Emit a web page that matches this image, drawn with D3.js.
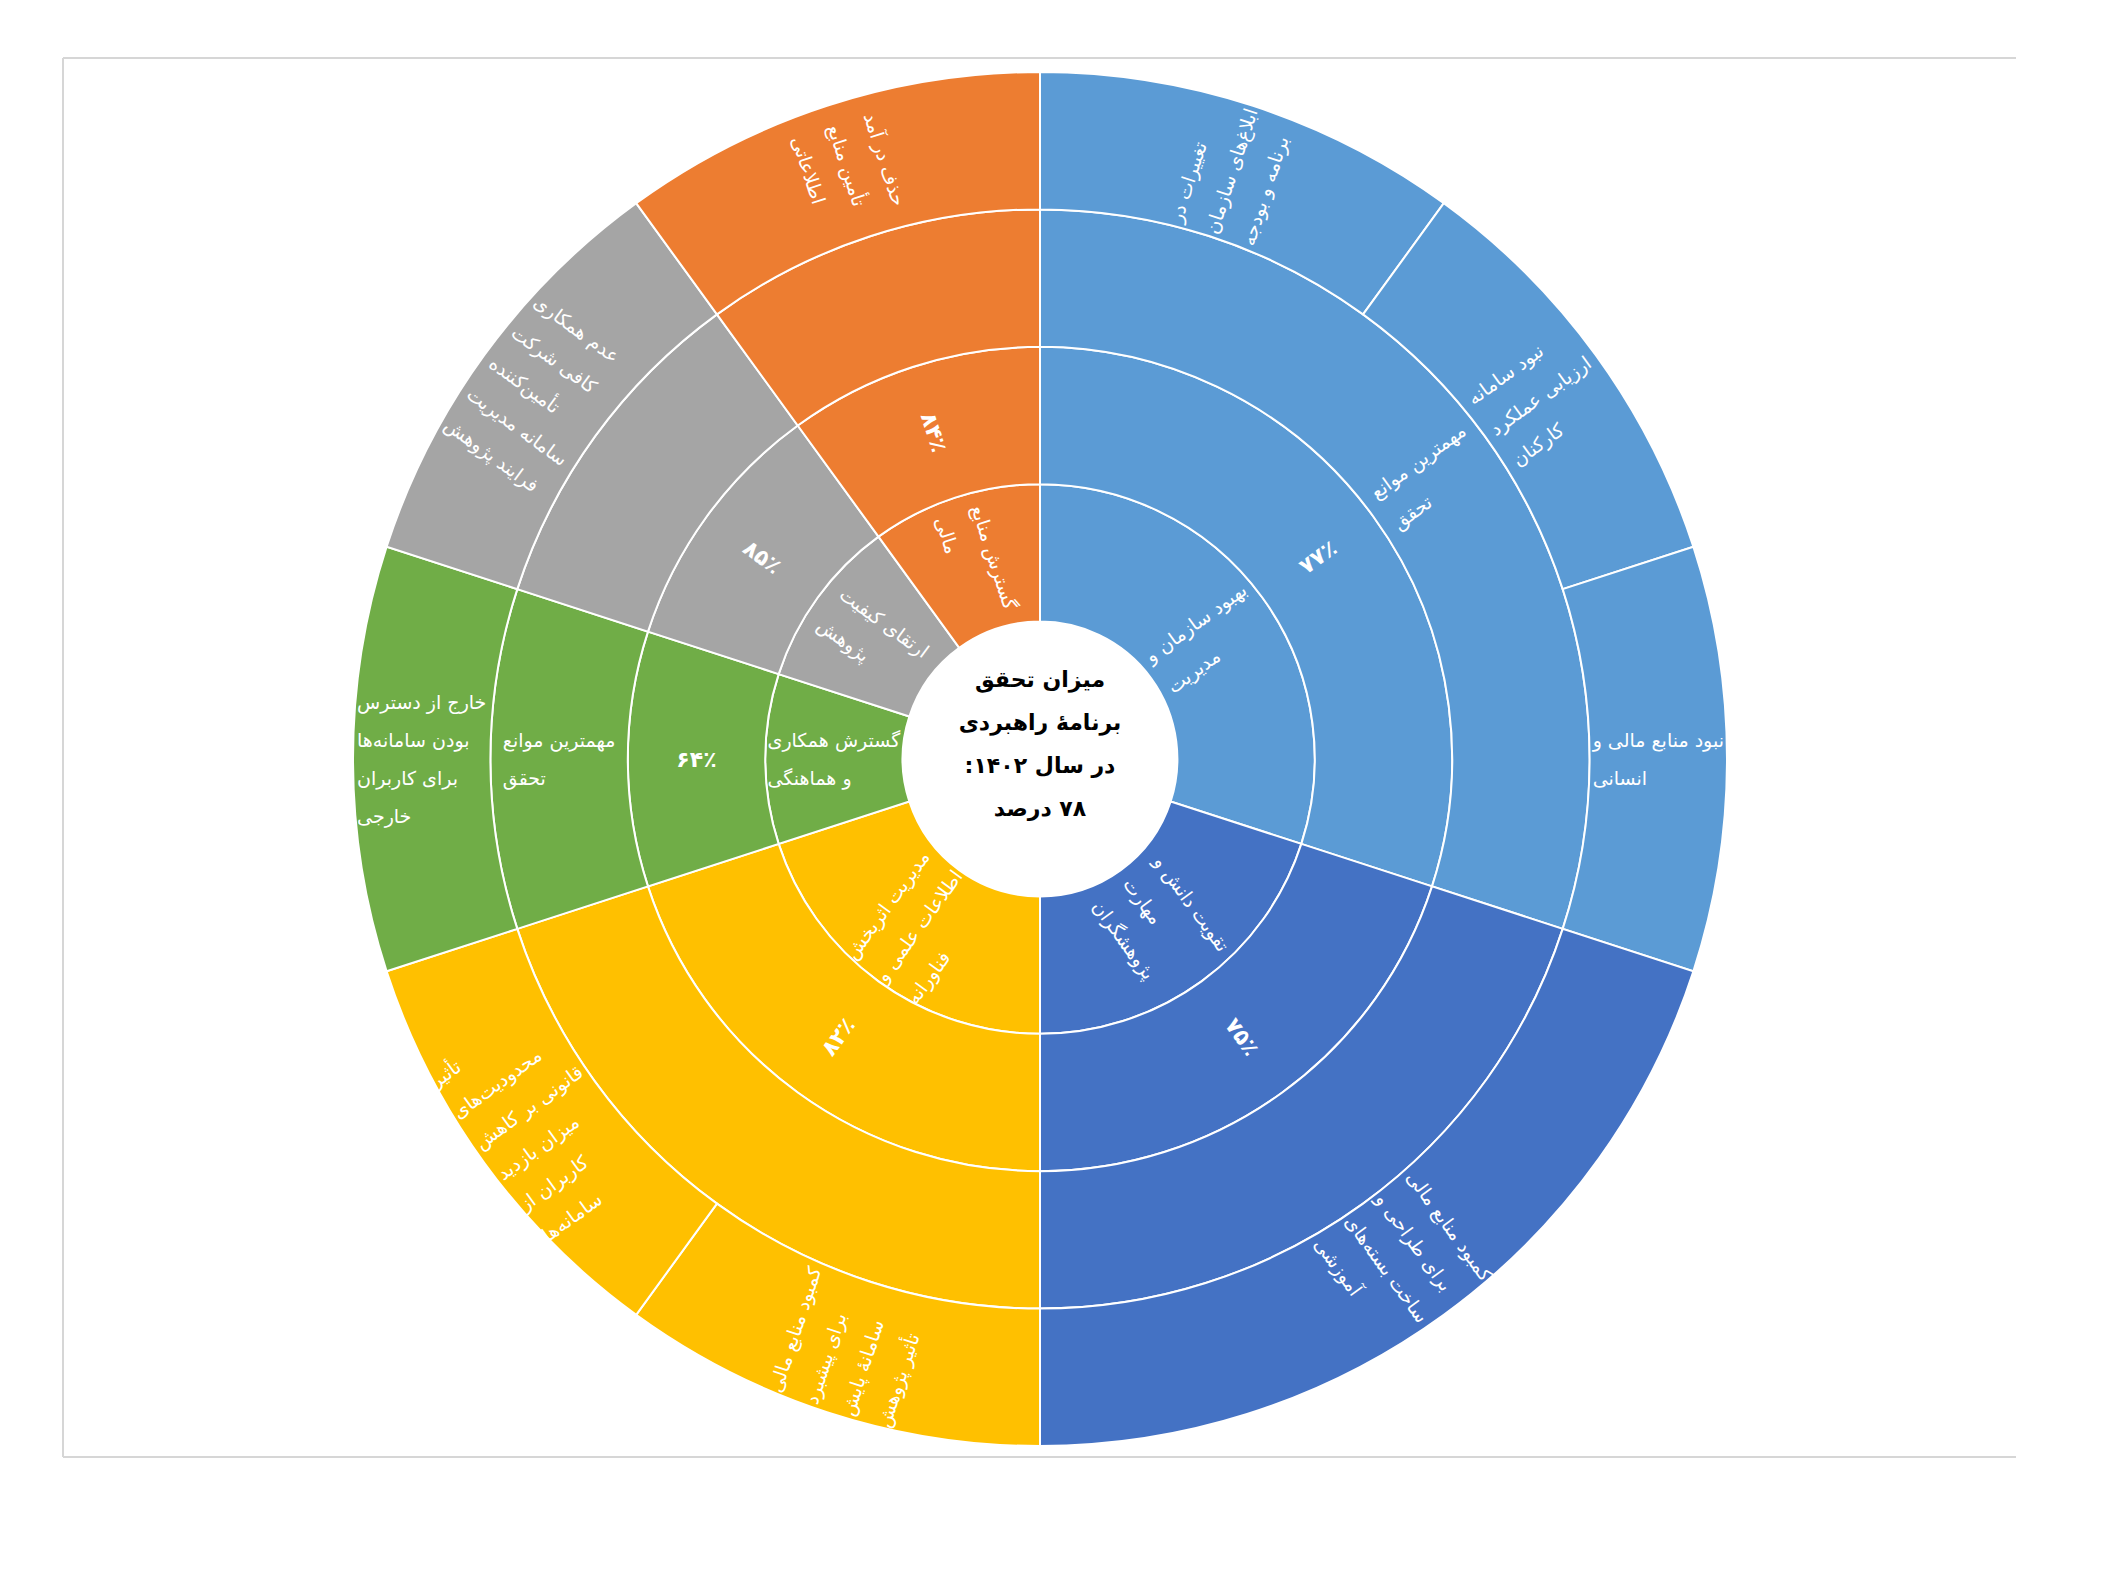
<!DOCTYPE html>
<html>
<head>
<meta charset="utf-8">
<script src="https://cdn.jsdelivr.net/npm/d3@7"></script>
<style>
  html, body { margin: 0; padding: 0; background: #ffffff; }
  svg { display: block; }
</style>
</head>
<body>
<svg id="chart" width="2115" height="1583"></svg>
<script>
// ---------------- DATA ----------------
// Level 1: strategic goals (line breaks as in the picture)
const goals = [
  "بهبود سازمان و\nمدیریت",
  "تقویت دانش و\nمهارت\nپژوهشگران",
  "مدیریت اثربخش\nاطلاعات علمی و\nفناورانه",
  "گسترش همکاری\nو هماهنگی",
  "ارتقای کیفیت\nپژوهش",
  "گسترش منابع\nمالی"
];
const goalColors = ["#5B9BD5", "#4472C4", "#FFC000", "#70AD47", "#A5A5A5", "#ED7D31"];
// Level 2: achievement percentages
const percents = ["۷۷٪", "۷۵٪", "۸۲٪", "۶۴٪", "۸۵٪", "۸۴٪"];
// Level 3: header ring (label shown only where visible in the picture)
const barrierHeaders = ["مهمترین موانع\nتحقق", "", "", "مهمترین موانع\nتحقق", "", ""];
// Level 4: obstacles
const obstacles = [
  ["تغییرات در\nابلاغ‌های سازمان\nبرنامه و بودجه", "نبود سامانه\nارزیابی عملکرد\nکارکنان", "نبود منابع مالی و\nانسانی"],
  ["کمبود منابع مالی\nبرای طراحی و\nساخت بسته‌های\nآموزشی"],
  ["کمبود منابع مالی\nبرای پیشبرد\nسامانهٔ پایش\nتأثیر پژوهش", "تأثیر\nمحدودیت‌های\nقانونی بر کاهش\nمیزان بازدید\nکاربران از\nسامانه‌ها"],
  ["خارج از دسترس\nبودن سامانه‌ها\nبرای کاربران\nخارجی"],
  ["عدم همکاری\nکافی شرکت\nتأمین‌کننده\nسامانه مدیریت\nفرایند پژوهش"],
  ["حذف در آمد\nتأمین منابع\nاطلاعاتی"]
];
const obstacleWeights = [[1, 1, 1], [2], [1, 1], [1], [1], [1]];
// Centre text (right-to-left lines)
const centerLines = ["میزان تحقق", "برنامهٔ راهبردی", "در سال ۱۴۰۲:", "۷۸ درصد"];

// ---------------- BUILD ----------------
const cx = 1040, cy = 759, R = 687;
const svg = d3.select("#chart");

// frame (light grey, right side open as in picture)
const frame = svg.append("g").attr("stroke", "#d6d6d6").attr("stroke-width", 2).attr("fill", "none");
frame.append("line").attr("x1", 63).attr("y1", 58).attr("x2", 2016).attr("y2", 58);
frame.append("line").attr("x1", 63).attr("y1", 58).attr("x2", 63).attr("y2", 1457);
frame.append("line").attr("x1", 63).attr("y1", 1457).attr("x2", 2016).attr("y2", 1457);

const rootData = {
  name: "",
  children: goals.map((g, i) => ({
    name: g, gi: i, kind: "goal",
    children: [{
      name: percents[i], gi: i, kind: "pct",
      children: [{
        name: barrierHeaders[i], gi: i, kind: "head",
        children: obstacles[i].map((o, j) => ({ name: o, gi: i, kind: "leaf", value: obstacleWeights[i][j] }))
      }]
    }]
  }))
};

const root = d3.hierarchy(rootData).sum(d => d.value || 0);
d3.partition().size([2 * Math.PI, R])(root);

const arc = d3.arc()
  .startAngle(d => d.x0).endAngle(d => d.x1)
  .innerRadius(d => d.y0).outerRadius(d => d.y1);

const g = svg.append("g").attr("transform", `translate(${cx},${cy})`);

g.selectAll("path.seg")
  .data(root.descendants())
  .join("path")
  .attr("class", "seg")
  .attr("d", arc)
  .attr("fill", d => d.depth === 0 ? "#ffffff" : goalColors[d.data.gi])
  .attr("stroke", "#ffffff")
  .attr("stroke-width", 2);

// segment labels: radial orientation, left-aligned lines, block centred on the segment centroid
const FONT = "'DejaVu Sans', sans-serif";
const labelNodes = root.descendants().filter(d => d.depth > 0 && d.data.name);
const lh = 38;

labelNodes.forEach(d => {
  const a = (d.x0 + d.x1) / 2;
  const r = (d.y0 + d.y1) / 2;
  const deg = a * 180 / Math.PI;
  const rot = deg < 180 ? deg - 90 : deg - 270;
  const x = r * Math.sin(a), y = -r * Math.cos(a);
  const lines = d.data.name.split("\n");
  const grp = g.append("g").attr("transform", `translate(${x},${y}) rotate(${rot})`);
  const isPct = d.data.kind === "pct";
  const t = grp.append("text")
    .attr("fill", "#ffffff")
    .attr("font-family", FONT)
    .attr("font-size", isPct ? 22 : 19)
    .attr("font-weight", isPct ? "bold" : "normal");
  const tspans = lines.map((ln, i) => t.append("tspan")
    .attr("x", 0)
    .attr("y", (i - (lines.length - 1) / 2) * lh)
    .attr("dominant-baseline", "central")
    .text(ln));
  const maxW = d3.max(tspans, ts => ts.node().getComputedTextLength());
  tspans.forEach(ts => ts.attr("x", -maxW / 2));
});

// centre title
const ct = g.append("g")
  .attr("font-family", FONT)
  .attr("font-weight", "bold")
  .attr("font-size", 22)
  .attr("fill", "#000000");
centerLines.forEach((ln, i) => {
  ct.append("text")
    .attr("x", 0)
    .attr("y", -15 + (i - 1.5) * 43)
    .attr("dominant-baseline", "central")
    .attr("text-anchor", "middle")
    .attr("direction", "rtl")
    .text(ln);
});
</script>
</body>
</html>
